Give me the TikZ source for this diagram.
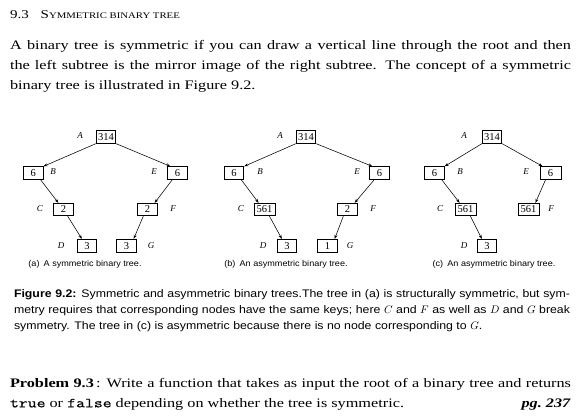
\documentclass[tikz,border=0pt]{standalone}
\usepackage{fontspec}
\setmainfont{Liberation Serif}[FakeStretch=1.25]
\setsansfont{Liberation Sans}[FakeStretch=1.12]
\setmonofont{Latin Modern Mono}[FakeStretch=1.25, FakeBold=0.5]
\newfontfamily\treefont{Liberation Serif}
\newfontfamily\capfont{Liberation Sans}[FakeStretch=1.08]
\usetikzlibrary{arrows.meta}
\tikzset{
  txt/.style={anchor=base west, inner sep=0pt, outer sep=0pt},
  bodyfont/.style={font=\rmfamily\fontsize{13}{15}\selectfont},
  figcap/.style={font=\sffamily\fontsize{11}{12}\selectfont},
  keybox/.style={draw, line width=0.9pt, minimum width=19.5pt, minimum height=12.5pt,
    inner sep=0.3pt, font=\treefont\fontsize{10.5}{11}\selectfont},
  widebox/.style={keybox, minimum width=21pt},
  lowbox/.style={keybox, minimum height=13.5pt},
  lbl/.style={inner sep=0pt, font=\treefont\itshape\fontsize{9}{10}\selectfont},
  link/.style={-{Stealth[length=4pt,width=3pt]}, line width=0.55pt},
  subcap/.style={anchor=base, inner sep=0pt, font=\capfont\fontsize{8.4}{9}\selectfont}
}
\begin{document}
\begin{tikzpicture}[x=1pt,y=-1pt]
\useasboundingbox (0,0) rectangle (582,418);
% heading
\node[txt, font=\rmfamily\fontsize{12}{13}\selectfont] (secno) at (10,18.3) {9.3};
\node[txt] (sectitle) at (40.7,18.3) {\rmfamily\fontsize{12}{13}\selectfont S\fontsize{8.6}{13}\selectfont YMMETRIC BINARY TREE};
% body
\node[txt, bodyfont] (b1) at (10,49.3) {\makebox[561pt][s]{A binary tree is symmetric if you can draw a vertical line through the root and then}};
\node[txt, bodyfont] (b2) at (10,69.3) {\makebox[561pt][s]{the left subtree is the mirror image of the right subtree. The concept of a symmetric}};
\node[txt, bodyfont] (b3) at (10,89.3) {binary tree is illustrated in Figure 9.2.};

% ---------- tree (a)
\node[keybox] (aR) at (106,137) {314};
\node[keybox] (aB) at (33.3,173) {6};
\node[keybox] (aE) at (177.5,173) {6};
\node[keybox] (aC) at (63.5,209.5) {2};
\node[keybox] (aF) at (147.5,209.5) {2};
\node[lowbox] (aD) at (87,246) {3};
\node[lowbox] (aG) at (126.5,246) {3};
\node[lbl] (aRl) at (80,136) {A};
\node[lbl] (aBl) at (53,172) {B};
\node[lbl] (aEl) at (154,172) {E};
\node[lbl] (aCl) at (40,209) {C};
\node[lbl] (aFl) at (173,209) {F};
\node[lbl] (aDl) at (61,246) {D};
\node[lbl] (aGl) at (151,246) {G};
\draw[link] (aR.south west) -- (aB.north east);
\draw[link] (aR.south east) -- ([xshift=3pt]aE.north west);
\draw[link] ([xshift=-3pt]aB.south east) -- ([xshift=5pt]aC.north west);
\draw[link] ([xshift=-6pt]aC.south east) -- ([xshift=5pt]aD.north west);
\draw[link] ([xshift=5pt]aE.south west) -- ([xshift=-3pt]aF.north east);
\draw[link] ([xshift=6pt]aF.south west) -- ([xshift=-3pt]aG.north east);
\node[subcap] (acap) at (85,266) {(a)\enspace A symmetric binary tree.};

% ---------- tree (b)
\node[keybox] (bR) at (306,137) {314};
\node[keybox] (bB) at (234,173) {6};
\node[keybox] (bE) at (379.5,173) {6};
\node[widebox] (bC) at (264.5,209.5) {561};
\node[keybox] (bF) at (347.5,209.5) {2};
\node[lowbox] (bD) at (287,246) {3};
\node[lowbox] (bG) at (327.5,246) {1};
\node[lbl] (bRl) at (280,136) {A};
\node[lbl] (bBl) at (260,172) {B};
\node[lbl] (bEl) at (357,172) {E};
\node[lbl] (bCl) at (241,209) {C};
\node[lbl] (bFl) at (373,209) {F};
\node[lbl] (bDl) at (263,246) {D};
\node[lbl] (bGl) at (350,246) {G};
\draw[link] (bR.south west) -- (bB.north east);
\draw[link] (bR.south east) -- ([xshift=3pt]bE.north west);
\draw[link] ([xshift=-3pt]bB.south east) -- ([xshift=5pt]bC.north west);
\draw[link] ([xshift=-6pt]bC.south east) -- ([xshift=5pt]bD.north west);
\draw[link] ([xshift=5pt]bE.south west) -- ([xshift=-3pt]bF.north east);
\draw[link] ([xshift=6pt]bF.south west) -- ([xshift=-3pt]bG.north east);
\node[subcap] (bcap) at (286,266) {(b)\enspace An asymmetric binary tree.};

% ---------- tree (c)
\node[keybox] (cR) at (492,137) {314};
\node[keybox] (cB) at (434.5,173) {6};
\node[widebox] (cE) at (550.5,173) {6};
\node[widebox] (cC) at (465.5,209.5) {561};
\node[widebox] (cF) at (528.5,209.5) {561};
\node[lowbox] (cD) at (487,246) {3};
\node[lbl] (cRl) at (464,136) {A};
\node[lbl] (cBl) at (460,172) {B};
\node[lbl] (cEl) at (526,172) {E};
\node[lbl] (cCl) at (440,209) {C};
\node[lbl] (cFl) at (551,209) {F};
\node[lbl] (cDl) at (464,246) {D};
\draw[link] (cR.south west) -- (cB.north east);
\draw[link] (cR.south east) -- ([xshift=3pt]cE.north west);
\draw[link] ([xshift=-3pt]cB.south east) -- ([xshift=5pt]cC.north west);
\draw[link] ([xshift=-6pt]cC.south east) -- ([xshift=5pt]cD.north west);
\draw[link] ([xshift=6pt]cE.south west) -- ([xshift=-4pt]cF.north east);
\node[subcap] (ccap) at (494,266) {(c)\enspace An asymmetric binary tree.};

% figure caption
\node[txt, figcap] (c1) at (14,297.3) {\makebox[556pt][s]{\textbf{Figure 9.2:} Symmetric and asymmetric binary trees.The tree in (a) is structurally symmetric, but sym-}};
\node[txt, figcap] (c2) at (14,313.3) {\makebox[556pt][s]{metry requires that corresponding nodes have the same keys; here $C$ and $F$ as well as $D$ and $G$ break}};
\node[txt, figcap] (c3) at (14,329.3) {symmetry. The tree in (c) is asymmetric because there is no node corresponding to $G$.};

% problem
\node[txt, bodyfont] (p1) at (10,387.3) {\makebox[561pt][s]{\textbf{Problem 9.3}\,: Write a function that takes as input the root of a binary tree and returns}};
\node[txt, bodyfont] (p2) at (10,407.3) {{\fontsize{13.8}{15}\ttfamily true} or {\fontsize{13.8}{15}\ttfamily false} depending on whether the tree is symmetric.};
\node[anchor=base east, inner sep=0pt, bodyfont] (pg) at (571,407.3) {\textbf{\textit{pg.\ 237}}};
\end{tikzpicture}
\end{document}
